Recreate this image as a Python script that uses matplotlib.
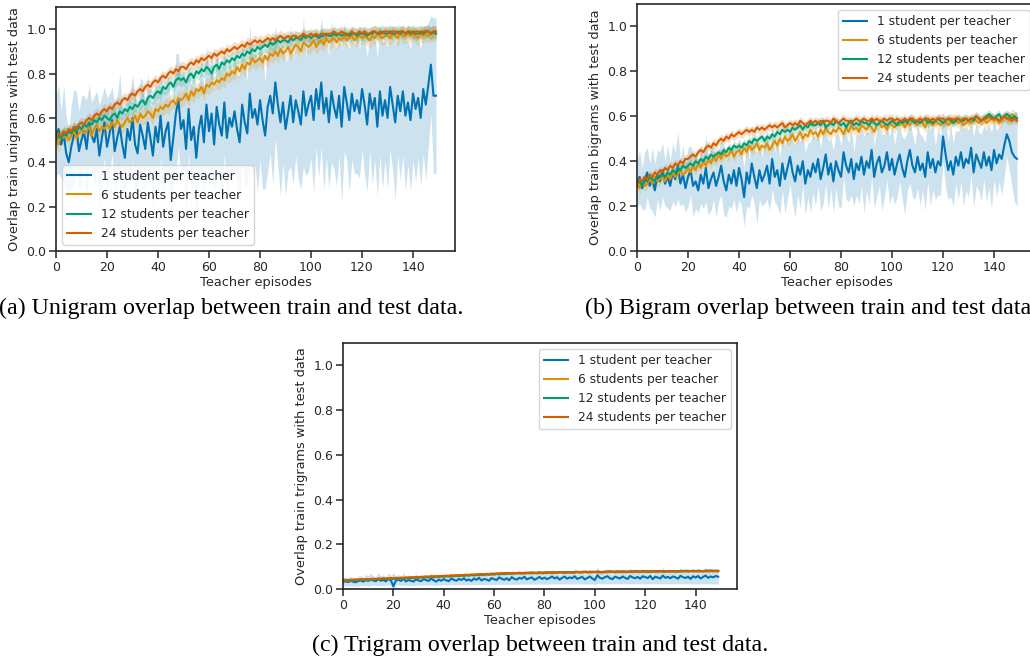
import numpy as np
import matplotlib
matplotlib.use("Agg")
import matplotlib.pyplot as plt

# ---------------- data ----------------
episodes = list(range(150))
labels = ["1 student per teacher", "6 students per teacher",
          "12 students per teacher", "24 students per teacher"]

# (a) unigram overlap, in hundredths
uni_1 = [52,55,48,53,44,40,47,52,56,45, 50,54,46,57,52,49,55,43,51,58,
         47,53,59,45,51,56,48,42,55,50, 60,48,44,57,52,46,58,51,43,56,
         49,61,47,54,58,41,51,62,68,55, 59,46,64,50,56,42,55,61,49,66,
         54,62,48,65,57,52,67,51,60,56, 63,55,49,66,58,53,71,60,64,57,
         68,59,52,65,70,62,76,66,58,67, 55,62,70,58,68,63,57,72,61,66,
         70,59,73,64,76,62,69,58,72,65, 60,70,56,74,67,59,71,63,68,62,
         73,66,57,71,64,69,56,72,61,68, 60,74,66,58,70,63,72,61,67,59,
         71,64,69,60,73,66,75,84,70,70]
uni_1_sd = [18,20,15,22,17,14,19,21,16,18, 20,16,22,18,15,21,17,23,19,16,
            22,18,15,21,19,24,17,20,16,22, 19,23,17,21,25,18,22,16,24,20,
            23,19,26,18,22,25,20,27,21,24, 22,28,20,25,23,30,21,26,24,27,
            25,29,22,27,24,30,23,28,26,25, 28,24,30,26,29,23,31,27,25,30,
            27,31,24,29,26,32,25,28,33,27, 30,26,32,28,25,31,29,34,27,30,
            28,33,26,31,29,35,27,30,32,28, 31,27,34,29,26,32,30,28,33,29,
            27,32,30,26,34,28,31,29,33,27, 32,28,30,35,27,31,29,34,28,32,
            30,33,27,31,29,34,28,22,35,35]
uni_6 = [50,48,52,51,53,50,52,54,51,53, 55,53,54,56,52,55,57,54,56,55,
         57,55,58,56,59,57,56,58,60,58, 59,61,58,62,60,61,63,62,60,64,
         63,65,64,66,65,67,68,66,69,68, 69,71,68,72,70,73,72,74,71,75,
         74,76,75,77,76,78,77,80,79,81, 80,83,81,84,82,85,84,87,85,86,
         87,85,88,86,89,88,90,88,91,89, 90,92,89,91,93,92,90,94,93,92,
         93,95,92,94,95,93,96,94,95,96, 94,96,95,97,95,96,97,95,96,97,
         96,97,96,95,97,96,98,97,96,97, 97,96,98,97,96,98,97,97,98,97,
         98,97,96,98,97,98,97,98,98,98]
uni_12 = [50,52,51,53,52,54,53,55,54,56, 55,57,56,58,57,59,58,60,59,61,
          60,59,61,62,60,63,62,64,63,65, 64,66,65,67,68,66,69,70,69,71,
          72,71,74,73,75,76,74,77,78,77, 78,76,79,80,78,81,80,82,81,83,
          82,80,83,84,82,85,84,86,85,87, 86,88,87,89,88,90,89,91,90,92,
          91,92,93,92,94,93,94,95,94,95, 95,94,96,95,96,96,95,97,96,97,
          96,97,97,96,97,97,98,97,97,98, 97,98,97,98,98,97,98,98,97,98,
          98,98,97,98,98,99,98,98,99,98, 98,99,98,98,99,98,99,98,99,98,
          99,98,98,99,98,99,99,98,99,98]
uni_24 = [51,53,52,54,53,55,54,56,55,57, 58,57,59,60,59,61,62,61,63,64,
          63,65,64,66,67,66,68,69,68,70, 71,70,72,73,72,74,75,74,76,77,
          76,78,79,78,80,81,80,82,81,83, 83,82,84,85,84,86,85,87,86,87,
          88,87,89,88,89,90,89,91,90,91, 92,91,92,93,92,94,93,94,95,94,
          95,94,95,96,95,96,95,96,97,96, 96,97,96,97,97,96,97,98,97,97,
          98,97,98,97,98,98,97,98,98,99, 98,98,99,98,97,98,99,98,98,99,
          98,99,98,98,99,99,98,99,98,99, 99,98,99,99,98,99,99,98,99,99,
          98,99,99,98,99,99,99,98,99,99]
uni_sd_others = [3.5, 3.0, 2.5]   # 6, 12, 24 students (hundredths)

# (b) bigram overlap, in hundredths
bi_1 = [30,33,28,31,35,29,32,27,34,31, 36,30,33,29,35,32,38,30,34,28,
        33,36,29,31,27,34,30,37,28,32, 35,29,33,38,31,27,34,30,36,29,
        37,32,24,35,30,39,33,28,36,31, 34,38,30,41,33,36,29,39,32,37,
        42,35,31,38,34,40,30,36,33,39, 35,41,32,37,43,34,39,31,40,36,
        33,44,38,35,41,32,39,36,42,34, 40,37,45,33,39,42,35,38,44,36,
        41,34,39,43,37,33,40,45,38,35, 42,36,39,33,44,37,41,35,40,38,
        51,43,36,40,34,42,38,44,37,41, 39,46,35,43,40,37,44,38,42,36,
        45,39,43,41,47,52,49,44,42,41]
bi_1_sd = [10,12,9,13,11,10,14,12,11,13, 12,10,14,11,13,12,15,10,13,11,
           13,11,14,12,10,13,11,15,12,14, 12,14,11,13,15,12,14,11,13,12,
           14,12,13,15,11,14,12,16,13,11, 13,15,12,14,11,16,13,12,15,14,
           12,14,16,13,15,11,14,12,16,13, 15,12,14,16,13,15,11,14,12,16,
           14,11,15,13,16,12,14,15,13,17, 13,16,12,14,15,13,17,14,12,15,
           16,13,15,12,14,17,13,15,14,12, 14,16,12,15,13,17,14,12,15,13,
           11,15,13,16,14,12,15,13,17,14, 15,12,16,14,13,15,12,16,14,17,
           13,15,12,16,14,10,13,15,20,21]
bi_6 = [30,28,31,29,30,32,30,33,31,32, 33,31,34,32,35,33,34,36,34,35,
        37,35,38,36,39,37,40,38,41,39, 42,40,43,41,44,42,43,45,42,44,
        45,43,46,44,47,45,46,48,45,47, 46,48,45,47,49,47,50,48,51,49,
        50,52,49,51,53,50,52,51,54,52, 53,51,54,52,55,53,52,54,53,55,
        54,52,55,53,56,54,55,53,56,55, 54,56,55,53,56,57,55,56,54,57,
        56,55,57,56,58,55,57,56,58,57, 56,58,57,55,58,57,56,58,57,56,
        57,58,56,57,59,58,57,58,56,57, 58,57,59,58,57,58,59,57,58,59,
        58,59,57,58,60,59,58,61,60,59]
bi_12 = [30,31,29,32,31,33,32,31,34,33, 34,33,35,34,36,35,37,36,38,37,
         38,39,38,40,39,41,40,42,41,43, 42,43,44,43,45,44,46,45,47,46,
         47,46,48,47,49,48,50,49,50,51, 49,51,50,52,51,53,52,54,53,54,
         53,55,54,55,56,54,56,55,57,56, 56,57,56,58,55,56,57,56,58,57,
         56,57,55,57,58,56,57,56,58,57, 57,56,58,57,56,57,58,57,56,57,
         58,57,56,58,57,58,57,59,58,57, 58,57,58,59,57,58,57,58,59,58,
         57,58,59,58,57,58,59,58,58,59, 58,59,58,60,59,58,59,60,61,60,
         59,60,61,59,60,61,60,59,60,59]
bi_24 = [30,32,31,33,32,34,33,35,34,36, 35,37,36,38,37,39,38,40,39,41,
         41,42,43,42,44,45,44,46,47,46, 48,47,49,50,49,51,50,52,51,52,
         53,52,53,54,53,54,53,55,54,55, 54,55,56,55,56,55,56,57,55,56,
         57,56,57,56,58,57,56,57,58,57, 58,57,58,57,58,58,57,59,58,57,
         58,59,58,58,57,58,59,58,58,59, 58,58,59,58,59,58,58,59,58,59,
         59,58,59,58,58,59,58,59,59,58, 58,59,58,59,59,58,59,58,59,59,
         59,58,59,59,58,59,59,58,59,59, 58,59,59,60,59,58,59,59,60,59,
         59,59,58,59,60,59,59,58,59,58]
bi_sd_others = [2.5, 2.0, 2.0]

# (c) trigram overlap, in thousandths
tri_1 = [32,34,31,36,33,30,35,38,33,40, 36,42,38,35,44,37,40,34,45,39,
         12,38,42,36,45,34,40,37,33,43, 38,35,44,40,36,46,39,33,42,37,
         44,39,35,47,41,37,45,40,48,38, 43,36,47,41,50,38,45,42,37,49,
         44,40,52,46,41,48,39,53,45,42, 50,46,55,43,48,52,41,47,54,45,
         51,44,49,56,47,53,42,50,55,46, 52,48,57,45,50,54,43,49,56,47,
         40,62,50,46,53,57,48,44,55,51, 47,56,50,45,58,52,48,54,46,57,
         53,49,58,44,55,51,47,60,50,54, 48,56,52,46,59,53,49,55,45,57,
         51,58,47,54,60,50,56,52,58,55]
tri_1_sd = [18,20,16,22,19,17,21,24,18,25, 22,28,20,19,30,21,25,18,27,22,
            60,20,24,19,28,18,23,21,17,26, 20,18,25,22,19,27,21,17,24,20,
            25,21,18,27,22,19,26,21,28,20, 24,18,27,22,29,19,25,23,18,28,
            24,20,30,25,21,27,19,31,24,22, 28,24,32,21,26,30,20,25,31,23,
            29,22,27,33,24,30,20,27,32,23, 30,25,34,22,27,31,21,26,33,24,
            20,36,27,23,30,34,25,21,32,28, 24,33,27,22,35,29,25,31,23,34,
            30,26,35,21,32,28,24,37,27,31, 25,33,29,23,36,30,26,32,22,34,
            28,35,24,31,37,27,33,29,36,32]
tri_6 = [39,37,40,38,41,39,42,40,43,41, 42,44,43,45,44,46,45,47,46,48,
         47,49,48,47,50,49,51,50,52,51, 53,52,54,53,55,54,56,55,57,56,
         58,57,59,58,60,59,61,60,62,61, 63,62,64,63,65,64,66,65,67,66,
         68,67,69,68,70,69,71,70,69,71, 72,71,70,72,71,73,72,71,73,72,
         74,72,73,75,74,72,75,74,73,75, 76,74,75,77,75,74,76,75,77,76,
         75,77,76,74,77,76,78,77,75,78, 77,76,78,77,79,76,78,80,77,79,
         78,77,79,80,78,77,79,78,80,79, 79,78,80,79,81,78,80,79,81,80,
         80,79,81,80,82,79,81,80,82,81]
tri_12 = [38,39,37,40,39,41,38,42,40,41, 43,41,44,42,45,43,46,44,46,47,
          45,48,46,49,47,50,48,51,49,52, 50,53,51,54,52,55,53,56,54,57,
          55,58,56,59,57,60,58,61,59,62, 60,63,61,64,62,65,63,66,64,67,
          65,68,66,69,67,70,68,69,71,70, 71,70,72,71,73,72,71,73,74,72,
          73,75,74,72,75,74,76,75,73,76, 75,74,76,77,75,76,78,77,75,77,
          76,78,77,75,78,77,79,78,76,79, 77,79,78,76,79,78,80,79,77,80,
          78,80,79,77,80,79,81,80,78,81, 79,81,80,78,81,80,82,81,79,82,
          80,82,81,79,82,81,83,82,80,81]
tri_24 = [40,41,40,42,41,43,42,44,43,44, 45,44,46,45,47,46,48,47,48,49,
          48,50,49,51,50,52,51,53,52,54, 53,55,54,56,55,57,56,58,57,59,
          58,60,59,61,60,62,61,63,62,64, 63,65,64,66,65,67,66,68,67,69,
          68,70,69,71,70,72,71,70,72,71, 73,72,71,73,72,74,73,72,74,73,
          74,73,75,74,73,75,74,76,75,74, 76,75,74,76,75,77,76,75,77,76,
          77,76,75,77,76,78,77,76,78,77, 78,77,76,78,77,79,78,77,79,78,
          79,78,77,79,78,80,79,78,80,79, 80,79,78,80,79,81,80,79,81,80,
          81,80,79,81,80,82,81,80,81,80]
tri_sd_others = [6, 5, 5]

x_ticks = [0, 20, 40, 60, 80, 100, 120, 140]
y_ticks = [0.0, 0.2, 0.4, 0.6, 0.8, 1.0]

colors = ["#0173b2", "#de8f05", "#029e73", "#d55e00"]
ink = "#262626"

plt.rcParams.update({
    "font.family": "DejaVu Sans",
    "font.size": 9.0,
    "axes.edgecolor": ink,
    "axes.linewidth": 1.2,
    "xtick.color": ink, "ytick.color": ink,
    "xtick.labelcolor": ink, "ytick.labelcolor": ink,
    "xtick.labelsize": 9.0, "ytick.labelsize": 9.0,
    "xtick.direction": "out", "ytick.direction": "out",
    "xtick.major.size": 5, "ytick.major.size": 5,
    "xtick.major.width": 1.1, "ytick.major.width": 1.1,
    "xtick.major.pad": 2.5, "ytick.major.pad": 2.0,
    "axes.labelcolor": ink,
})

fig = plt.figure(figsize=(10.30, 6.61), dpi=100)

W, H = 1030.0, 661.0
def rect(l, t, r, b):
    return [l / W, 1 - b / H, (r - l) / W, (b - t) / H]

ax_a = fig.add_axes(rect(56, 7, 455, 251))
ax_b = fig.add_axes(rect(637, 4, 1036, 251))
ax_c = fig.add_axes(rect(343, 343, 737, 589))

panels = [
    (ax_a, [uni_1, uni_6, uni_12, uni_24], uni_1_sd, uni_sd_others, 100.0,
     "Overlap train unigrams with test data", "lower left"),
    (ax_b, [bi_1, bi_6, bi_12, bi_24], bi_1_sd, bi_sd_others, 100.0,
     "Overlap train bigrams with test data", "upper right"),
    (ax_c, [tri_1, tri_6, tri_12, tri_24], tri_1_sd, tri_sd_others, 1000.0,
     "Overlap train trigrams with test data", "upper right"),
]

x = np.array(episodes)
for ax, series, sd1, sdo, scale, ylab, loc in panels:
    for i, (vals, col, lab) in enumerate(zip(series, colors, labels)):
        m = np.array(vals) / scale
        if i == 0:
            hw = np.array(sd1) / scale
        else:
            hw = np.full(len(m), sdo[i - 1] / scale)
        ax.fill_between(x, m - hw, m + hw, color=col, alpha=0.2, lw=0)
    for i, (vals, col, lab) in enumerate(zip(series, colors, labels)):
        m = np.array(vals) / scale
        ax.plot(x, m, color=col, lw=1.5, label=lab)
    ax.set_xlim(0, 156.45)
    ax.set_ylim(0, 1.1)
    ax.set_xticks(x_ticks)
    ax.set_yticks(y_ticks)
    ax.set_xlabel("Teacher episodes", fontsize=9.3, labelpad=1)
    ax.set_ylabel(ylab, fontsize=9.3, labelpad=4)
    leg = ax.legend(loc=loc, fontsize=8.8, frameon=True, fancybox=True,
                    framealpha=0.8, edgecolor="#cccccc", borderaxespad=0.5)
    for t in leg.get_texts():
        t.set_color(ink)

cap_font = dict(family="Liberation Serif", fontsize=17.3, color="black",
                ha="center", va="center")
fig.text(231 / W, 1 - 308 / H, "(a) Unigram overlap between train and test data.", **cap_font)
fig.text(808 / W, 1 - 308 / H, "(b) Bigram overlap between train and test data", **cap_font)
fig.text(540 / W, 1 - 645 / H, "(c) Trigram overlap between train and test data.", **cap_font)

fig.savefig("out.png", dpi=100)
